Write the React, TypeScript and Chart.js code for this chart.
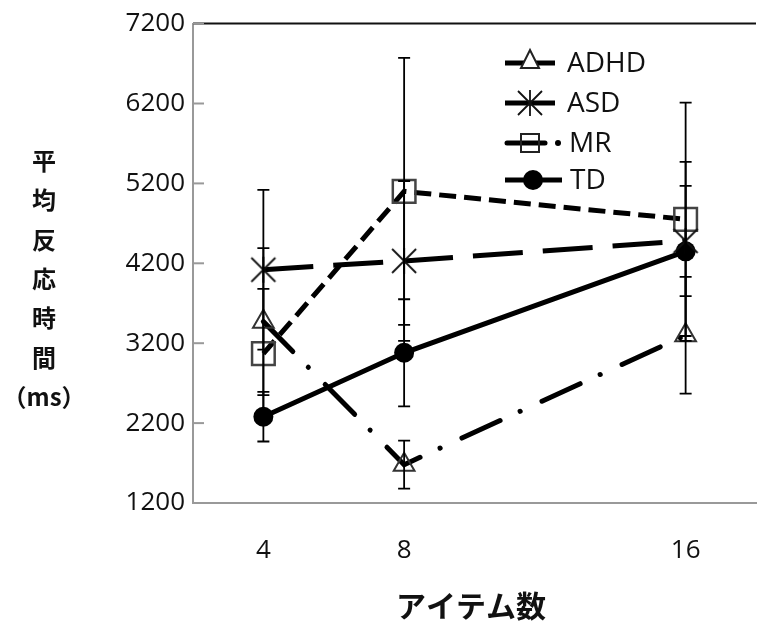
import React, { useEffect, useRef } from "react";
import { Chart, registerables } from "chart.js";

Chart.register(...registerables);

// ---- data ----
const itemCounts = [4, 8, 16];
const xTickValues = [4, 8, 16];
const yTickValues = [1200, 2200, 3200, 4200, 5200, 6200, 7200];
const xMin = 2;
const xMax = 18;

const seriesNames = ["ADHD", "ASD", "MR", "TD"];
const adhdMeans = [3470, 1680, 3300];
const adhdErrors = [920, 300, 730];
const asdMeans = [4120, 4230, 4480];
const asdErrors = [1000, 1000, 690];
const mrMeans = [3070, 5100, 4750];
const mrErrors = [810, 1670, 1460];
const tdMeans = [2280, 3080, 4350];
const tdErrors = [310, 670, 1120];

const yTitleChars = ["平", "均", "反", "応", "時", "間", "（ms）"];
const xTitle = "アイテム数";

const W = 775;
const H = 623;

function makeAsterisk(size: number): HTMLCanvasElement {
  const c = document.createElement("canvas");
  c.width = size;
  c.height = size;
  const g = c.getContext("2d")!;
  const cx = size / 2;
  const a = size / 2 - 2;
  g.strokeStyle = "#111";
  g.lineWidth = 1.8;
  g.beginPath();
  g.moveTo(cx - a, cx - a);
  g.lineTo(cx + a, cx + a);
  g.moveTo(cx + a, cx - a);
  g.lineTo(cx - a, cx + a);
  g.moveTo(cx, cx - a - 1);
  g.lineTo(cx, cx + a + 1);
  g.stroke();
  return c;
}

export default function App() {
  const ref = useRef<HTMLCanvasElement>(null);

  useEffect(() => {
    const canvas = ref.current!;
    const asterisk = makeAsterisk(28);
    const meansList = [adhdMeans, asdMeans, mrMeans, tdMeans];
    const errList = [adhdErrors, asdErrors, mrErrors, tdErrors];

    const framePlugin = {
      id: "frame",
      beforeDatasetsDraw(chart: any) {
        const { ctx, chartArea, scales } = chart;
        ctx.save();
        ctx.strokeStyle = "#111";
        ctx.lineWidth = 2;
        ctx.beginPath();
        ctx.moveTo(chartArea.left, chartArea.top);
        ctx.lineTo(chartArea.right, chartArea.top);
        ctx.stroke();
        ctx.strokeStyle = "#999";
        ctx.lineWidth = 2;
        for (const v of yTickValues) {
          const y = scales.y.getPixelForValue(v);
          ctx.beginPath();
          ctx.moveTo(chartArea.left, y);
          ctx.lineTo(chartArea.left + 11, y);
          ctx.stroke();
        }
        ctx.restore();
      },
    };

    const errorBarPlugin = {
      id: "errorBars",
      afterDatasetsDraw(chart: any) {
        const { ctx, scales } = chart;
        ctx.save();
        ctx.strokeStyle = "#000";
        ctx.lineWidth = 1.8;
        meansList.forEach((means, s) => {
          means.forEach((m, i) => {
            const x = scales.x.getPixelForValue(itemCounts[i]);
            const yt = scales.y.getPixelForValue(m + errList[s][i]);
            const yb = scales.y.getPixelForValue(m - errList[s][i]);
            ctx.beginPath();
            ctx.moveTo(x, yt);
            ctx.lineTo(x, yb);
            ctx.moveTo(x - 6, yt);
            ctx.lineTo(x + 6, yt);
            ctx.moveTo(x - 6, yb);
            ctx.lineTo(x + 6, yb);
            ctx.stroke();
          });
        });
        ctx.restore();
      },
    };

    const textPlugin = {
      id: "texts",
      afterDraw(chart: any) {
        const { ctx } = chart;
        ctx.save();
        // y title
        ctx.fillStyle = "#111";
        ctx.textAlign = "center";
        ctx.textBaseline = "middle";
        ctx.font = "bold 24px 'Noto Sans CJK JP'";
        yTitleChars.forEach((ch, i) => {
          ctx.fillText(ch, 44, 161 + 39.3 * i);
        });
        // x title
        ctx.font = "bold 30px 'Noto Sans CJK JP'";
        ctx.fillText(xTitle, 471, 606);

        // legend
        const rows = [63, 103, 143, 180];
        const lx0 = 505;
        ctx.strokeStyle = "#000";
        ctx.fillStyle = "#000";
        ctx.lineWidth = 5;
        ctx.lineCap = "butt";
        // ADHD
        let y = rows[0];
        ctx.beginPath();
        ctx.moveTo(lx0, y);
        ctx.lineTo(lx0 + 50, y);
        ctx.stroke();
        ctx.lineWidth = 2;
        ctx.strokeStyle = "#222";
        ctx.beginPath();
        ctx.moveTo(530, y - 13);
        ctx.lineTo(539, y + 5);
        ctx.lineTo(521, y + 5);
        ctx.closePath();
        ctx.fillStyle = "#fff";
        ctx.fill();
        ctx.stroke();
        // ASD
        y = rows[1];
        ctx.strokeStyle = "#000";
        ctx.lineWidth = 5;
        ctx.beginPath();
        ctx.moveTo(lx0, y);
        ctx.lineTo(lx0 + 50, y);
        ctx.stroke();
        ctx.drawImage(asterisk, 530 - 14, y - 14);
        // MR
        y = rows[2];
        ctx.lineCap = "round";
        ctx.beginPath();
        ctx.moveTo(lx0 + 2, y);
        ctx.lineTo(lx0 + 40, y);
        ctx.stroke();
        ctx.beginPath();
        ctx.arc(558, y, 3, 0, Math.PI * 2);
        ctx.fillStyle = "#000";
        ctx.fill();
        ctx.lineWidth = 2;
        ctx.strokeStyle = "#222";
        ctx.strokeRect(521, y - 9, 18, 18);
        // TD
        y = rows[3];
        ctx.strokeStyle = "#000";
        ctx.lineWidth = 5;
        ctx.lineCap = "butt";
        ctx.beginPath();
        ctx.moveTo(lx0, y);
        ctx.lineTo(lx0 + 57, y);
        ctx.stroke();
        ctx.beginPath();
        ctx.arc(533, y, 10, 0, Math.PI * 2);
        ctx.fill();

        ctx.fillStyle = "#111";
        ctx.textAlign = "left";
        ctx.textBaseline = "middle";
        ctx.font = "28px 'Open Sans'";
        const tx = [567, 567, 569, 570];
        seriesNames.forEach((n, i) => {
          ctx.fillText(n, tx[i], rows[i] + 1);
        });
        ctx.restore();
      },
    };

    const mk = (means: number[]) => itemCounts.map((x, i) => ({ x, y: means[i] }));

    const chart = new Chart(canvas, {
      type: "line",
      data: {
        datasets: [
          {
            label: seriesNames[0],
            data: mk(adhdMeans),
            borderColor: "#000",
            borderWidth: 5,
            borderDash: [42, 22, 0.1, 24],
            borderCapStyle: "round",
            pointStyle: "triangle",
            pointRadius: 12,
            pointBorderColor: "#333",
            pointBackgroundColor: "rgba(255,255,255,0)",
            pointBorderWidth: 2,
            tension: 0,
          },
          {
            label: seriesNames[1],
            data: mk(asdMeans),
            borderColor: "#000",
            borderWidth: 5,
            borderDash: [50, 20],
            borderCapStyle: "butt",
            pointStyle: asterisk as any,
            pointRadius: 14,
            tension: 0,
          },
          {
            label: seriesNames[2],
            data: mk(mrMeans),
            borderColor: "#000",
            borderWidth: 5,
            borderDash: [17, 8],
            borderCapStyle: "butt",
            pointStyle: "rect",
            pointRadius: 16,
            pointBorderColor: "#444",
            pointBackgroundColor: "rgba(255,255,255,0)",
            pointBorderWidth: 2.5,
            tension: 0,
          },
          {
            label: seriesNames[3],
            data: mk(tdMeans),
            borderColor: "#000",
            borderWidth: 5,
            pointStyle: "circle",
            pointRadius: 10,
            pointBorderColor: "#000",
            pointBackgroundColor: "#000",
            pointBorderWidth: 0,
            tension: 0,
          },
        ],
      },
      options: {
        animation: false,
        responsive: false,
        devicePixelRatio: 1,
        layout: { padding: { top: 5, left: 0, right: 0, bottom: 0 } },
        plugins: { legend: { display: false }, tooltip: { enabled: false } },
        scales: {
          x: {
            type: "linear",
            min: xMin,
            max: xMax,
            afterBuildTicks: (scale: any) => {
              scale.ticks = xTickValues.map((v) => ({ value: v }));
            },
            afterFit: (scale: any) => {
              scale.height = 120;
            },
            grid: { display: false, drawTicks: false },
            border: { display: true, color: "#999", width: 2 },
            ticks: {
              font: { family: "Open Sans", size: 26 },
              color: "#111",
              padding: 32,
              maxRotation: 0,
              callback: (v: any) => String(v),
            },
          },
          y: {
            type: "linear",
            min: yTickValues[0],
            max: yTickValues[yTickValues.length - 1],
            afterBuildTicks: (scale: any) => {
              scale.ticks = yTickValues.map((v) => ({ value: v }));
            },
            afterFit: (scale: any) => {
              scale.width = 193;
            },
            grid: { display: false, drawTicks: false },
            border: { display: true, color: "#999", width: 2 },
            ticks: {
              font: { family: "Open Sans", size: 26 },
              color: "#111",
              padding: 8,
              callback: (v: any) => String(v),
            },
          },
        },
      },
      plugins: [framePlugin, errorBarPlugin, textPlugin],
    } as any);

    return () => chart.destroy();
  }, []);

  return (
    <div style={{ position: "fixed", left: 0, top: 0, width: W, height: H, background: "#fff" }}>
      <canvas ref={ref} width={W} height={H} style={{ width: W, height: H, display: "block" }} />
    </div>
  );
}
